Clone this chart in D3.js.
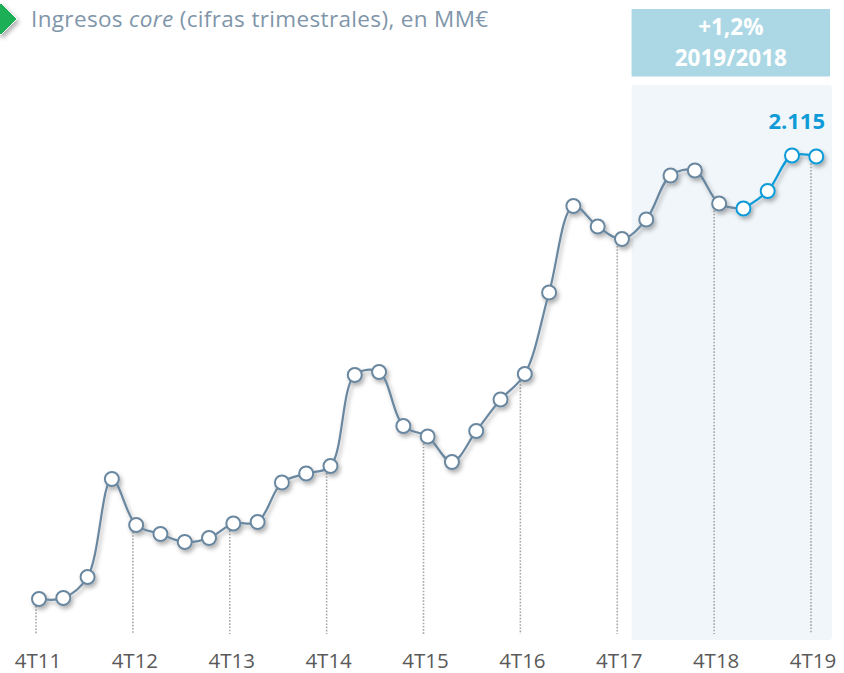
<!DOCTYPE html>
<html>
<head>
<meta charset="utf-8">
<script src="https://cdn.jsdelivr.net/npm/d3@7"></script>
<style>
html,body{margin:0;padding:0;background:#fff;}
svg{display:block;font-family:"Open Sans",Lato,sans-serif;}
</style>
</head>
<body>
<svg id="chart" width="844" height="673"></svg>
<script>
// ---- data ----
const quarters = ["4T11","1T12","2T12","3T12","4T12","1T13","2T13","3T13","4T13","1T14","2T14","3T14","4T14",
  "1T15","2T15","3T15","4T15","1T16","2T16","3T16","4T16","1T17","2T17","3T17","4T17",
  "1T18","2T18","3T18","4T18","1T19","2T19","3T19","4T19"];
const values = [1230,1232,1274,1470,1378,1360,1344,1352,1381,1384,1463,1481,1496,
  1678,1684,1576,1555,1504,1566,1629,1680,1843,2016,1975,1950,
  1989,2077,2087,2021,2011,2046,2117,2115];
const tickLabels = ["4T11","4T12","4T13","4T14","4T15","4T16","4T17","4T18","4T19"];
const titleMain = "Ingresos ";
const titleItalic = "core";
const titleRest = " (cifras trimestrales), en MM€";
const badgeLines = ["+1,2%","2019/2018"];
const lastLabel = "2.115";
const highlightFrom = "1T19";
const shadeFrom = "1T18";

const greyC = "#6a87a0", blueC = "#0f9bd7";

const svg = d3.select("#chart");
const defs = svg.append("defs");
const f = defs.append("filter").attr("id","sh").attr("x","-30%").attr("y","-30%").attr("width","160%").attr("height","160%");
f.append("feDropShadow").attr("dx",2).attr("dy",3).attr("stdDeviation",2).attr("flood-color","#000").attr("flood-opacity",0.3);

const idx = quarters.map((d,i)=>i);
const x = d3.scaleLinear().domain([0, quarters.length-1]).range([39, 816.3]);
const xTick = d3.scaleLinear().domain([0, quarters.length-1]).range([36, 811]);
const y = d3.scaleLinear().domain([1160, 2230]).range([634, 99]);

// shaded region
const si = quarters.indexOf(shadeFrom);
const bx = x(si) - 14.7;
svg.append("rect").attr("x", bx).attr("y", 85).attr("width", 832 - bx).attr("height", 555)
  .attr("rx",3).attr("fill","#f1f6fa");

// badge
svg.append("rect").attr("x", bx).attr("y", 9).attr("width", 830 - bx).attr("height", 67.5).attr("fill","#acd8e5");
svg.append("g").selectAll("text").data(badgeLines).join("text")
  .attr("x", (bx+830)/2).attr("y",(d,i)=>35 + i*31).attr("text-anchor","middle")
  .attr("fill","#fff").attr("font-weight","bold").attr("font-size",22.5).text(d=>d);

// title + diamond
svg.append("path").attr("d","M-15,19 L1,3 L17,19 L1,35 Z").attr("fill","#1aaf54").attr("stroke","#fff").attr("stroke-width",1).attr("filter","url(#sh)");
const t = svg.append("text").attr("x",31).attr("y",27).attr("fill","#7f96aa").attr("font-size",22.5).attr("letter-spacing",0.35);
t.append("tspan").text(titleMain);
t.append("tspan").attr("font-style","italic").text(titleItalic);
t.append("tspan").text(titleRest);

// dotted drop lines + labels
const tickIdx = tickLabels.map(l=>quarters.indexOf(l));
svg.append("g").selectAll("line").data(tickIdx).join("line")
  .attr("x1", i=>xTick(i)).attr("x2", i=>xTick(i))
  .attr("y1", i=>y(values[i])+7).attr("y2", 634)
  .attr("stroke","#a6a6a6").attr("stroke-width",1.6).attr("stroke-dasharray","1.6,1.6");
svg.append("g").selectAll("text").data(tickIdx).join("text")
  .attr("x", i=>xTick(i)+2).attr("y", 668).attr("text-anchor","middle")
  .attr("fill","#595959").attr("font-size",20.5).text(i=>quarters[i]);

// lines
const hi = quarters.indexOf(highlightFrom);
const line = d3.line().x(i=>x(i)).y(i=>y(values[i])).curve(d3.curveCatmullRom.alpha(0.5));
const g = svg.append("g").attr("filter","url(#sh)");
g.append("path").attr("d", line(idx.slice(0, hi+1))).attr("fill","none").attr("stroke",greyC).attr("stroke-width",2.2);
g.append("path").attr("d", line(idx.slice(hi))).attr("fill","none").attr("stroke",blueC).attr("stroke-width",2.2);
g.selectAll("circle").data(idx).join("circle")
  .attr("cx", i=>x(i)).attr("cy", i=>y(values[i])).attr("r",7)
  .attr("fill","#fff").attr("stroke", i=> i>=hi ? blueC : greyC).attr("stroke-width",2);

// last value label
svg.append("text").attr("x", 825).attr("y", 129).attr("text-anchor","end")
  .attr("fill",blueC).attr("font-weight","bold").attr("font-size",22).text(lastLabel);
</script>
</body>
</html>
